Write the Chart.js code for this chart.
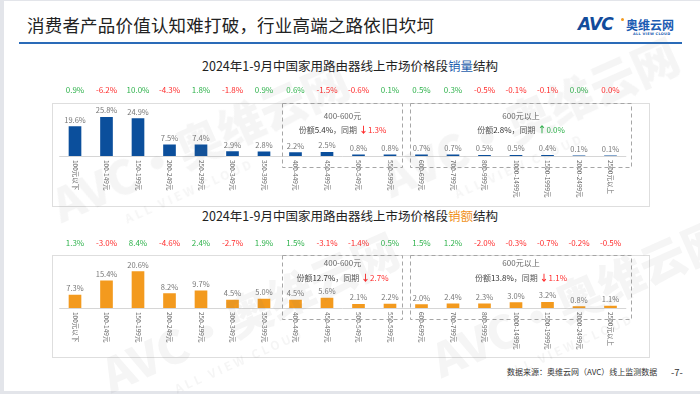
<!DOCTYPE html>
<html lang="zh">
<head>
<meta charset="utf-8">
<title>家用路由器线上市场价格段结构</title>
<script src="https://cdn.jsdelivr.net/npm/chart.js@4.4.1/dist/chart.umd.min.js"></script>
<style>
    html, body { margin: 0; padding: 0; background: #fff; }
    body {
        width: 700px; height: 394px; position: relative; overflow: hidden;
        font-family: "Noto Sans CJK SC", "Noto Sans", sans-serif;
    }
    .frame {
        position: absolute; left: 0; top: 0; width: 696px; height: 390px;
        border-left: 4px solid #e3e5ea; border-top: 1px solid #e3e5ea; border-bottom: 3px solid #e3e5ea;
    }
    .page-title {
        position: absolute; left: 27px; top: 12px;
        font-size: 17.5px; color: #222; line-height: 26px; letter-spacing: 0.2px;
    }
    .title-line {
        position: absolute; left: 19px; top: 42px; width: 663px; height: 2px; background: #2a6bb8;
    }
    .logo { position: absolute; left: 578px; top: 14px; width: 110px; height: 26px; }
    .logo .avc {
        position: absolute; left: 0; top: 0; font: italic 900 17px "DejaVu Sans", sans-serif;
        color: #124b9b; letter-spacing: -1px;
    }
    .logo .dot { position: absolute; left: 43px; top: 4px; width: 3px; height: 3px; background: #f39a1e; border-radius: 50%; }
    .logo .cn { position: absolute; left: 48px; top: 2px; font-size: 12px; font-weight: 700; color: #1a5bb2; }
    .logo .en { position: absolute; left: 55px; top: 18px; font: 700 3.5px "DejaVu Sans", sans-serif; color: #1a5bb2; letter-spacing: 0.3px; }
    .chart-title {
        position: absolute; left: 0; width: 700px; text-align: center;
        font-size: 12.5px; color: #222; line-height: 18px;
    }
    .chart-title .blue { color: #1f5fae; }
    .chart-title .orange { color: #f0921c; }
    .panel { position: absolute; left: 52px; width: 596px; border: 1px solid #dedede; }
    .chart-box { position: absolute; left: 52px; width: 597px; }
    .footer { position: absolute; top: 365px; font-size: 8px; color: #333; line-height: 14px; }
    .mark {
        position: absolute; white-space: nowrap; transform-origin: left top;
        font-weight: 900; color: rgba(120, 120, 120, 0.07); pointer-events: none;
    }
    .mark small { display: block; font-size: 12px; font-weight: 700; letter-spacing: 3px; margin-left: 60px; }
</style>
</head>
<body>
<div class="frame"></div>
<div class="page-title">消费者产品价值认知难打破，行业高端之路依旧坎坷</div>
<div class="title-line"></div>
<div class="logo">
    <span class="avc">AVC</span><span class="dot"></span>
    <span class="cn">奥维云网</span>
    <span class="en">ALL VIEW CLOUD</span>
</div>

<div class="chart-title" style="top:57px;">2024年1-9月中国家用路由器线上市场价格段<span class="blue">销量</span>结构</div>
<div class="panel" style="top:103px; height:102px;"></div>
<div class="chart-box" style="top:80px; height:126px;"><canvas id="volumeChart"></canvas></div>

<div class="chart-title" style="top:207px;">2024年1-9月中国家用路由器线上市场价格段<span class="orange">销额</span>结构</div>
<div class="panel" style="top:255px; height:101px;"></div>
<div class="chart-box" style="top:232px; height:125px;"><canvas id="valueChart"></canvas></div>

<div class="footer" style="left:507px;">数据来源：奥维云网（AVC）线上监测数据</div>
<div class="footer" style="left:671px; font-size:9.5px;">-7-</div>

<div class="mark" style="left:40px; top:175px; font-size:46px; transform:rotate(-24deg);">AVC·奥维云网<small>ALL VIEW CLOUD</small></div>
<div class="mark" style="left:370px; top:150px; font-size:46px; transform:rotate(-24deg);">AVC·奥维云网<small>ALL VIEW CLOUD</small></div>
<div class="mark" style="left:90px; top:345px; font-size:46px; transform:rotate(-24deg);">AVC·奥维云网<small>ALL VIEW CLOUD</small></div>
<div class="mark" style="left:420px; top:330px; font-size:46px; transform:rotate(-24deg);">AVC·奥维云网<small>ALL VIEW CLOUD</small></div>

<script>
// ===================================
// 价格段数据 (2024年1-9月)
// ===================================
const categories = [
    '100元以下', '100-149元', '150-199元', '200-249元', '250-299元', '300-349元',
    '350-399元', '400-449元', '450-499元', '500-549元', '550-599元', '600-699元',
    '700-799元', '800-999元', '1000-1499元', '1500-1999元', '2000-2499元', '2500元以上'
];

// 销量份额 / 同比变化
const volumeShare = [19.6, 25.8, 24.9, 7.5, 7.4, 2.9, 2.8, 2.2, 2.5, 0.8, 0.8, 0.7, 0.7, 0.5, 0.5, 0.4, 0.1, 0.1];
const volumeChange = [0.9, -6.2, 10.0, -4.3, 1.8, -1.8, 0.9, 0.6, -1.5, -0.6, 0.1, 0.5, 0.3, -0.5, -0.1, -0.1, 0.0, -0.0];

// 销额份额 / 同比变化
const valueShare = [7.3, 15.4, 20.6, 8.2, 9.7, 4.5, 5.0, 4.5, 5.6, 2.1, 2.2, 2.0, 2.4, 2.3, 3.0, 3.2, 0.8, 1.1];
const valueChange = [1.3, -3.0, 8.4, -4.6, 2.4, -2.7, 1.9, 1.5, -3.1, -1.4, 0.5, 1.5, 1.2, -2.0, -0.3, -0.7, -0.2, -0.5];

// 分组 (400-600元, 600元以上)
const groupTitles = ['400-600元', '600元以上'];
const groupRanges = [[7, 10], [11, 17]];
const volumeGroupShare = [5.4, 2.8];
const volumeGroupChange = [-1.3, 0.0];
const valueGroupShare = [12.7, 13.8];
const valueGroupChange = [-2.7, -1.1];

const FONT = '"Noto Sans CJK SC", "Noto Sans", sans-serif';
const GREEN = '#2fb24c';
const RED = '#ff2b2b';

function isNegative(v) {
    return v < 0 || Object.is(v, -0);
}

function fmtPct(v) {
    return v.toFixed(1) + '%';
}

// 柱子上方数值、同比、横轴标签、虚线分组框
const panelPlugin = {
    id: 'panelDecor',
    afterDatasetsDraw(chart, args, opts) {
        const ctx = chart.ctx;
        const xs = chart.scales.x;
        const area = chart.chartArea;
        const meta = chart.getDatasetMeta(0);
        const values = chart.data.datasets[0].data;
        ctx.save();

        // baseline
        ctx.strokeStyle = '#d6d6d6';
        ctx.lineWidth = 1;
        ctx.beginPath();
        ctx.moveTo(area.left, Math.round(area.bottom) + 0.5);
        ctx.lineTo(area.right, Math.round(area.bottom) + 0.5);
        ctx.stroke();

        // value labels
        ctx.font = '7.5px ' + FONT;
        ctx.fillStyle = '#777';
        ctx.textAlign = 'center';
        ctx.textBaseline = 'bottom';
        meta.data.forEach((bar, i) => {
            ctx.fillText(fmtPct(values[i]), bar.x, bar.y - 3);
        });

        // change row
        ctx.font = '8px ' + FONT;
        ctx.textBaseline = 'middle';
        opts.changes.forEach((v, i) => {
            ctx.fillStyle = isNegative(v) ? RED : GREEN;
            ctx.fillText(fmtPct(v), xs.getPixelForValue(i), opts.changeY);
        });

        // category labels, top to bottom
        ctx.font = '6.5px ' + FONT;
        ctx.fillStyle = '#666';
        ctx.textAlign = 'left';
        categories.forEach((label, i) => {
            ctx.save();
            ctx.translate(xs.getPixelForValue(i), area.bottom + 4);
            ctx.rotate(Math.PI / 2);
            ctx.fillText(label, 0, 0);
            ctx.restore();
        });

        // dashed group boxes
        const boxTop = area.top - 8;
        const boxBottom = area.bottom + 11;
        const pads = [[14, 12], [11.5, 20.5]];
        ctx.strokeStyle = '#a6a6a6';
        ctx.setLineDash([4, 3]);
        groupRanges.forEach((r, g) => {
            const left = Math.round(xs.getPixelForValue(r[0]) - pads[g][0]) + 0.5;
            const right = Math.round(xs.getPixelForValue(r[1]) + pads[g][1]) + 0.5;
            ctx.strokeRect(left, boxTop + 0.5, right - left, boxBottom - boxTop);

            const cx = (left + right) / 2;
            ctx.textAlign = 'center';
            ctx.textBaseline = 'middle';
            ctx.font = '8px ' + FONT;
            ctx.fillStyle = '#666';
            ctx.fillText(groupTitles[g], cx, opts.noteY[0]);

            // 份额x%，同期 ↓y%
            const change = opts.groupChange[g];
            const parts = [
                { t: '份额', c: '#555', f: '8px ' },
                { t: fmtPct(opts.groupShare[g]), c: '#333', f: '8px ' },
                { t: '，同期 ', c: '#555', f: '8px ' },
                { t: isNegative(change) ? '↓' : '↑', c: isNegative(change) ? RED : GREEN, f: 'bold 9px ' },
                { t: fmtPct(Math.abs(change)), c: isNegative(change) ? RED : GREEN, f: '8px ' }
            ];
            let total = 0;
            parts.forEach(p => { ctx.font = p.f + FONT; p.w = ctx.measureText(p.t).width; total += p.w; });
            let px = cx - total / 2;
            ctx.textAlign = 'left';
            parts.forEach(p => {
                ctx.font = p.f + FONT;
                ctx.fillStyle = p.c;
                ctx.fillText(p.t, px, opts.noteY[1]);
                px += p.w;
            });
        });
        ctx.setLineDash([]);
        ctx.restore();
    }
};

// Bar chart builder
function initShareChart(id, data, color, yMax, decor, bottomPad) {
    const ctx = document.getElementById(id);
    if (!ctx) return null;

    return new Chart(ctx, {
        type: 'bar',
        data: {
            labels: categories,
            datasets: [{
                data: data,
                backgroundColor: color,
                barThickness: 12
            }]
        },
        options: {
            responsive: true,
            maintainAspectRatio: false,
            animation: false,
            layout: {
                padding: { left: 7.25, right: 22.75, top: 31, bottom: bottomPad }
            },
            plugins: {
                legend: { display: false },
                tooltip: { enabled: false },
                panelDecor: decor
            },
            scales: {
                x: { display: false, offset: true },
                y: { display: false, min: 0, max: yMax }
            }
        },
        plugins: [panelPlugin]
    });
}

initShareChart('volumeChart', volumeShare, '#0b4f9c', 30, {
    changes: volumeChange,
    changeY: 10,
    noteY: [36, 50],
    groupShare: volumeGroupShare,
    groupChange: volumeGroupChange
}, 50);

initShareChart('valueChart', valueShare, '#f39a1e', 25.4, {
    changes: valueChange,
    changeY: 11,
    noteY: [31, 46],
    groupShare: valueGroupShare,
    groupChange: valueGroupChange
}, 49);
</script>
</body>
</html>
